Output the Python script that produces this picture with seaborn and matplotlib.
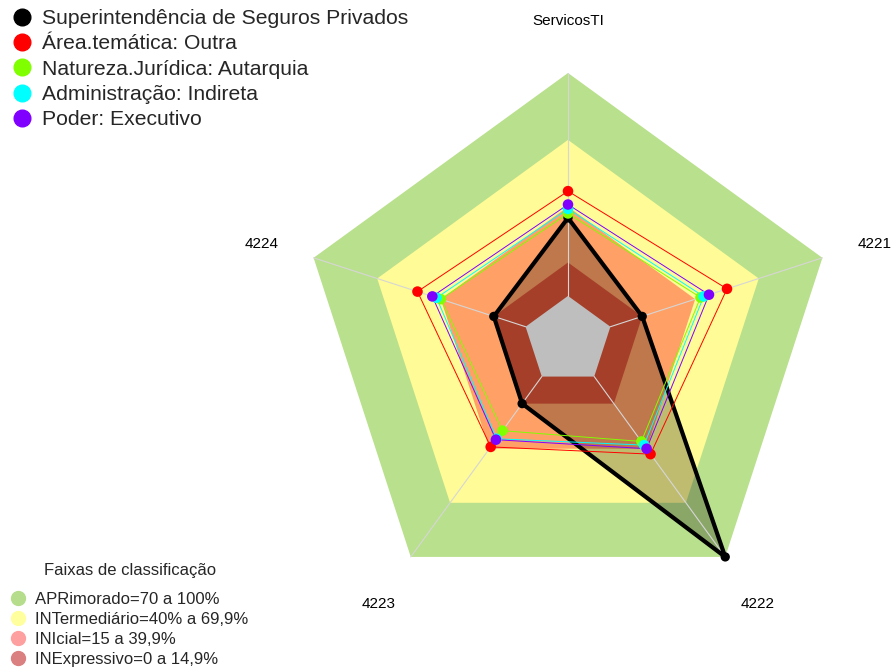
import numpy as np
import pandas as pd
import matplotlib
matplotlib.use("Agg")
import matplotlib.pyplot as plt
from matplotlib.lines import Line2D
import seaborn as sns

# =========================
# Dados
# =========================

eixos = ["ServicosTI", "4221", "4222", "4223", "4224"]

series_nomes = [
    "Superintendência de Seguros Privados",
    "Área.temática: Outra",
    "Natureza.Jurídica: Autarquia",
    "Administração: Indireta",
    "Poder: Executivo",
]
series_cores = ["#000000", "#FF0000", "#80FF00", "#00FFFF", "#8000FF"]

v_superintendencia = [0.35, 0.15, 1.00, 0.15, 0.15]
v_area_tematica = [0.47, 0.55, 0.43, 0.39, 0.51]
v_natureza = [0.37, 0.425, 0.36, 0.30, 0.40]
v_administracao = [0.39, 0.44, 0.38, 0.345, 0.42]
v_poder = [0.41, 0.465, 0.40, 0.35, 0.44]

faixas_titulo = "Faixas de classificação"
faixas_nomes = [
    "APRimorado=70 a 100%",
    "INTermediário=40% a 69,9%",
    "INIcial=15 a 39,9%",
    "INExpressivo=0 a 14,9%",
]
faixas_limites = [1.00, 0.70, 0.40, 0.15]
faixas_cores = ["#B9E08C", "#FFFB96", "#FFA066", "#DD5538"]
faixas_cores_legenda = ["#B5DD8C", "#FFFF9E", "#FFA0A0", "#DA8080"]

valores = [v_superintendencia, v_area_tematica, v_natureza, v_administracao, v_poder]

# =========================
# Tabela longa
# =========================

linhas = []
for nome, vals in zip(series_nomes, valores):
    for eixo, v in zip(eixos, vals):
        linhas.append({"serie": nome, "eixo": eixo, "valor": v})
df = pd.DataFrame(linhas)

ang_eixo = dict(zip(eixos, np.deg2rad(90 - 72 * np.arange(len(eixos)))))
ang = np.array([ang_eixo[e] for e in eixos])


def raio(v):
    # centro vazio de 1/6 como no fmsb (seg=5)
    return 1 / 6 + 5 / 6 * np.asarray(v, dtype=float)


df["r"] = raio(df["valor"])
df["ang"] = df["eixo"].map(ang_eixo)
df["x"] = df["r"] * np.cos(df["ang"])
df["y"] = df["r"] * np.sin(df["ang"])

# =========================
# Figura
# =========================

sns.set_theme(style="white")
plt.rcParams["font.family"] = ["Liberation Sans", "DejaVu Sans"]

fig = plt.figure(figsize=(8.94, 6.68), dpi=100)
ax = fig.add_axes([0, 0, 1, 1])

R = 267.5
cx, cy = 568, 340.5


def poligono(vals):
    r = raio(vals)
    x = r * np.cos(ang)
    y = r * np.sin(ang)
    return np.append(x, x[0]), np.append(y, y[0])


# faixas de classificacao
for lim, cor in zip(faixas_limites, faixas_cores):
    px, py = poligono([lim] * len(eixos))
    ax.fill(px, py, color=cor, lw=0, zorder=1)

# preenchimento da serie principal
px, py = poligono(v_superintendencia)
ax.fill(px, py, color="black", alpha=0.25, lw=0, zorder=2)

# centro vazio
px, py = poligono([0] * len(eixos))
ax.fill(px, py, color="#BEBEBE", lw=0, zorder=3)

# raios
for a in ang:
    r0, r1 = raio(0), raio(1)
    ax.plot([r0 * np.cos(a), r1 * np.cos(a)], [r0 * np.sin(a), r1 * np.sin(a)],
            color="#D6D6D6", lw=0.8, zorder=3.5)

# linhas das series
for i, (nome, cor) in enumerate(zip(series_nomes, series_cores)):
    sub = df[df["serie"] == nome]
    lx = np.append(sub["x"].values, sub["x"].values[0])
    ly = np.append(sub["y"].values, sub["y"].values[0])
    ax.plot(lx, ly, color=cor, lw=3 if i == 0 else 0.7, zorder=4 + i * 0.1)

# pontos
tamanhos = {n: (45 if i == 0 else 58) for i, n in enumerate(series_nomes)}
sns.scatterplot(
    data=df, x="x", y="y", hue="serie", size="serie",
    palette=dict(zip(series_nomes, series_cores)), sizes=tamanhos,
    edgecolor="none", legend=False, ax=ax, zorder=5
)
ax.set_xlim(-cx / R, (894 - cx) / R)
ax.set_ylim(-(668 - cy) / R, cy / R)
ax.set_aspect("equal")
ax.axis("off")

# rotulos dos eixos
for eixo in eixos:
    a = ang_eixo[eixo]
    ax.text(1.205 * np.cos(a), 1.205 * np.sin(a) - 0.012, eixo,
            ha="center", va="center", fontsize=11, color="black")

# =========================
# Legendas
# =========================

h_series = [Line2D([], [], marker="o", ls="", color=c, markersize=12)
            for c in series_cores]
fig.legend(
    h_series, series_nomes, loc="upper left",
    bbox_to_anchor=(11.6 / 894, 1 - 9 / 668),
    frameon=False, fontsize=15.2, handlelength=1.0, handletextpad=0.44,
    labelspacing=0.3, borderpad=0, borderaxespad=0
)

h_faixas = [Line2D([], [], marker="o", ls="", color=c, markersize=10)
            for c in faixas_cores_legenda]
fig.legend(
    h_faixas, faixas_nomes, loc="lower left",
    bbox_to_anchor=(10 / 894, 1 / 668),
    frameon=False, fontsize=12, handlelength=1.0, handletextpad=0.52,
    labelspacing=0.3, borderpad=0, borderaxespad=0
)
fig.text(130 / 894, 1 - 571 / 668, faixas_titulo,
         ha="center", va="center", fontsize=12)

fig.savefig("out.png", dpi=100)
